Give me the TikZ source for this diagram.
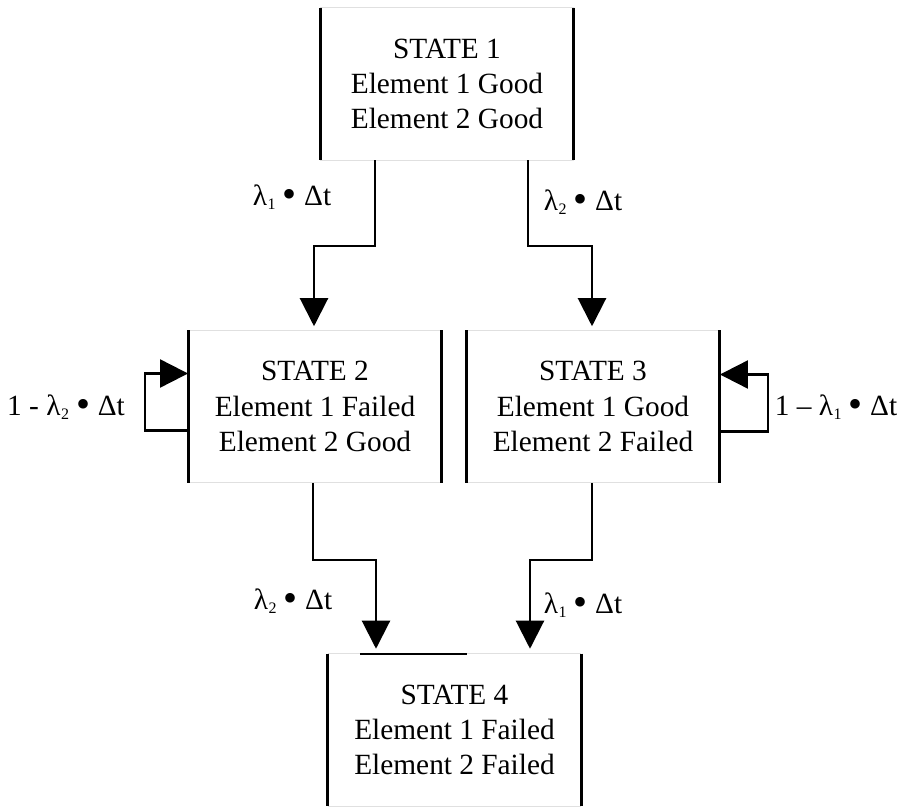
\documentclass[tikz,border=0pt]{standalone}
\usepackage{fontspec}
\setmainfont{Liberation Serif}
\usetikzlibrary{arrows.meta,calc}
\newcommand{\lam}[1]{λ\kern0.02em\raisebox{-0.28ex}{\fontsize{12}{12}\selectfont #1}}
\newcommand{\dotop}{\raisebox{-0.12ex}{\fontsize{30}{30}\selectfont •}}
\begin{document}
\begin{tikzpicture}[x=0.75pt,y=-0.75pt,
  statebox/.style={minimum width=190pt,minimum height=114pt,inner sep=0pt,
    align=center,font=\fontsize{22}{26.5}\selectfont},
  sideline/.style={line width=2.3pt,black},
  edgeline/.style={line width=0.8pt,black!12},
  conn/.style={line width=1.6pt,-{Triangle[length=21pt,width=21pt]}},
  lbl/.style={font=\fontsize{22}{26}\selectfont,inner sep=0pt}]
\useasboundingbox (0,0) rectangle (899,809);

% state boxes
\node[statebox] (s1) at (447,84) {STATE 1\\Element 1 Good\\Element 2 Good};
\node[statebox] (s2) at (315,406.5) {STATE 2\\Element 1 Failed\\Element 2 Good};
\node[statebox] (s3) at (593,406.5) {STATE 3\\Element 1 Good\\Element 2 Failed};
\node[statebox] (s4) at (454.5,730) {STATE 4\\Element 1 Failed\\Element 2 Failed};

% box frames: faint top and bottom, heavy sides
\foreach \b in {s1,s2,s3,s4}{
  \draw[edgeline] (\b.north west) -- (\b.north east);
  \draw[edgeline] (\b.south west) -- (\b.south east);
  \draw[sideline] (\b.north west) -- (\b.south west);
  \draw[sideline] (\b.north east) -- (\b.south east);
}
\draw[line width=1.6pt] ($(s4.north)+(-94.5,0)$) -- ($(s4.north)+(12.5,0)$);

% transitions out of state 1
\draw[conn] ($(s1.south)+(-72,0)$) -- ++(0,86) -| ($(s2.north)+(-1,-4)$);
\draw[conn] ($(s1.south)+(81,0)$) -- ++(0,86) -| ($(s3.north)+(-1,-4)$);
\node[lbl] (l1) at (292,197) {\lam{1} \dotop{} Δt};
\node[lbl] (l2) at (583,202) {\lam{2} \dotop{} Δt};

% self loops
\draw[conn] ($(s2.west)+(0,24)$) -- ++(-43,0) -- ++(0,-57) -- ($(s2.west)+(0,-33)$);
\node[lbl] (l3) at (66,407) {1 - \lam{2} \dotop{} Δt};
\draw[conn] ($(s3.east)+(0,25)$) -- ++(48,0) -- ++(0,-57) -- ($(s3.east)+(0,-32)$);
\node[lbl] (l4) at (836,407) {1 – \lam{1} \dotop{} Δt};

% transitions into state 4
\draw[conn] ($(s2.south)+(-2,0)$) -- ++(0,77) -| ($(s4.north)+(-78.5,-5)$);
\draw[conn] ($(s3.south)+(-1,0)$) -- ++(0,77) -| ($(s4.north)+(75.5,-5)$);
\node[lbl] (l5) at (293,601) {\lam{2} \dotop{} Δt};
\node[lbl] (l6) at (583,605) {\lam{1} \dotop{} Δt};
\end{tikzpicture}
\end{document}
